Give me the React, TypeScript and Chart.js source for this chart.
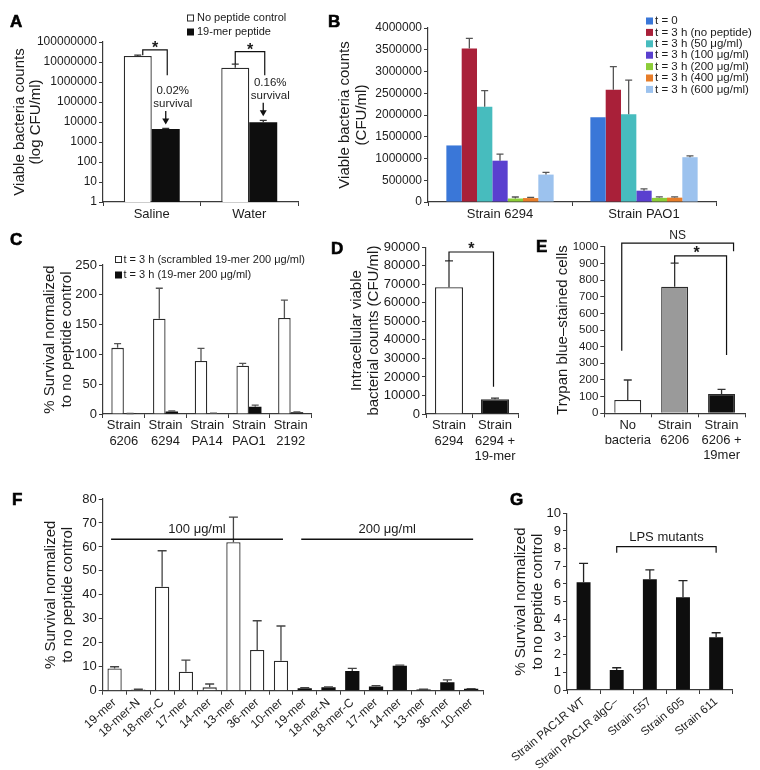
import React, { useEffect, useRef } from 'react';
import { Chart, registerables } from 'chart.js';

Chart.register(...registerables);

const FONT = '"Liberation Sans", Arial, Helvetica, sans-serif';
Chart.defaults.font.family = FONT;

const INK = '#1b1b1b';
const AXIS = '#3a3a3a';
const WHITE = '#ffffff';
const BLACK = '#0e0e0e';
const EDGE = '#2b2b2b';
const GRAY = '#9a9a9a';

// ---------------- Panel A ----------------
const A_categories = ['Saline', 'Water'];
const A_series = ['No peptide control', '19-mer peptide'];
const A_noPeptide = [2.0e7, 5.2e6];
const A_noPeptideErr = [2.0e6, 2.7e6];
const A_peptide = [4500, 9700];
const A_peptideErr = [300, 2400];
const A_ticks = [1, 10, 100, 1000, 10000, 100000, 1000000, 10000000, 100000000];
const A_survival = ['0.02%', '0.16%'];

// ---------------- Panel B ----------------
const B_categories = ['Strain 6294', 'Strain PAO1'];
const B_series = [
  't = 0',
  't = 3 h (no peptide)',
  't = 3 h (50 μg/ml)',
  't = 3 h (100 μg/ml)',
  't = 3 h (200 μg/ml)',
  't = 3 h (400 μg/ml)',
  't = 3 h (600 μg/ml)',
];
const B_t0 = [1300000, 1950000];
const B_noPeptide = [3530000, 2580000];
const B_50 = [2190000, 2020000];
const B_100 = [950000, 260000];
const B_200 = [80000, 95000];
const B_400 = [90000, 100000];
const B_600 = [630000, 1030000];
const B_t0Err = [0, 0];
const B_noPeptideErr = [230000, 530000];
const B_50Err = [370000, 780000];
const B_100Err = [150000, 40000];
const B_200Err = [35000, 25000];
const B_400Err = [15000, 20000];
const B_600Err = [50000, 30000];
const B_colors = ['#3a77d8', '#a92039', '#47bcbe', '#5a40cf', '#8ccd38', '#e77d29', '#9cc2ee'];

// ---------------- Panel C ----------------
const C_categories = [
  ['Strain', '6206'],
  ['Strain', '6294'],
  ['Strain', 'PA14'],
  ['Strain', 'PAO1'],
  ['Strain', '2192'],
];
const C_series = ['t = 3 h (scrambled 19-mer 200 μg/ml)', 't = 3 h (19-mer 200 μg/ml)'];
const C_scrambled = [111, 160, 89, 81, 161];
const C_scrambledErr = [7, 51, 21, 4, 30];
const C_peptide = [0.5, 4, 1, 12.3, 3];
const C_peptideErr = [0.3, 1, 0.3, 2.7, 0.6];

// ---------------- Panel D ----------------
const D_categories = [['Strain', '6294'], ['Strain', '6294 +', '19-mer']];
const D_values = [68400, 7900];
const D_err = [14200, 700];

// ---------------- Panel E ----------------
const E_categories = [['No', 'bacteria'], ['Strain', '6206'], ['Strain', '6206 +', '19mer']];
const E_values = [80, 760, 116];
const E_err = [120, 142, 28];

// ---------------- Panel F ----------------
const F_categories = [
  '19-mer', '18-mer-N', '18-mer-C', '17-mer', '14-mer', '13-mer', '36-mer', '10-mer',
  '19-mer', '18-mer-N', '18-mer-C', '17-mer', '14-mer', '13-mer', '36-mer', '10-mer',
];
const F_dose100 = [9.3, 0.5, 43.4, 7.9, 1.4, 62, 17, 12.5, null, null, null, null, null, null, null, null];
const F_dose100Err = [0.7, 0.1, 15, 4.9, 1.4, 10.4, 12.2, 14.5, null, null, null, null, null, null, null, null];
const F_dose200 = [null, null, null, null, null, null, null, null, 1.0, 1.4, 8.2, 1.8, 10.4, 0.5, 3.5, 0.8];
const F_dose200Err = [null, null, null, null, null, null, null, null, 0.3, 0.2, 1.1, 0.3, 0.3, 0.1, 1.0, 0.1];
const F_groups = ['100 μg/ml', '200 μg/ml'];

// ---------------- Panel G ----------------
const G_categories = ['Strain PAC1R WT', 'Strain PAC1R algC–', 'Strain 557', 'Strain 605', 'Strain 611'];
const G_values = [6.1, 1.13, 6.27, 5.25, 2.98];
const G_err = [1.07, 0.13, 0.53, 0.94, 0.26];

// ---------------- helpers ----------------
const errorBarPlugin = {
  id: 'errorBars',
  afterDatasetsDraw(chart: any) {
    const ctx = chart.ctx;
    const y = chart.scales.y;
    chart.data.datasets.forEach((ds: any, di: number) => {
      if (!ds.errors) return;
      const meta = chart.getDatasetMeta(di);
      meta.data.forEach((bar: any, i: number) => {
        const v = ds.data[i];
        const e = ds.errors[i];
        if (v == null || e == null || e <= 0) return;
        const top = y.getPixelForValue(v + e);
        ctx.save();
        ctx.strokeStyle = ds.errorColor || '#333';
        ctx.lineWidth = 1.3;
        ctx.beginPath();
        ctx.moveTo(bar.x, bar.y);
        ctx.lineTo(bar.x, top);
        const w = ds.capWidth ?? 8;
        ctx.moveTo(bar.x - w / 2, top);
        ctx.lineTo(bar.x + w / 2, top);
        ctx.stroke();
        ctx.restore();
      });
    });
  },
};

function txt(ctx: any, s: string, x: number, y: number, size: number, align = 'center', bold = false) {
  ctx.save();
  ctx.fillStyle = INK;
  ctx.font = `${bold ? 'bold ' : ''}${size}px ${FONT}`;
  ctx.textAlign = align;
  ctx.textBaseline = 'middle';
  ctx.fillText(s, x, y);
  ctx.restore();
}

function path(ctx: any, pts: number[][], w = 1.2) {
  ctx.save();
  ctx.strokeStyle = '#111';
  ctx.lineWidth = w;
  ctx.beginPath();
  pts.forEach((p, i) => (i ? ctx.lineTo(p[0], p[1]) : ctx.moveTo(p[0], p[1])));
  ctx.stroke();
  ctx.restore();
}

function star(ctx: any, x: number, y: number) {
  txt(ctx, '*', x, y + 3.5, 16, 'center', true);
}

function arrowDown(ctx: any, x: number, y0: number, y1: number) {
  ctx.save();
  ctx.strokeStyle = '#111';
  ctx.fillStyle = '#111';
  ctx.lineWidth = 1.3;
  ctx.beginPath();
  ctx.moveTo(x, y0);
  ctx.lineTo(x, y1 - 4);
  ctx.stroke();
  ctx.beginPath();
  ctx.moveTo(x - 3.5, y1 - 6);
  ctx.lineTo(x + 3.5, y1 - 6);
  ctx.lineTo(x, y1);
  ctx.closePath();
  ctx.fill();
  ctx.restore();
}

function legend(ctx: any, chart: any, x: number, y0: number, dy: number, box: number, gap: number, size: number) {
  chart.data.datasets.forEach((ds: any, i: number) => {
    const y = y0 + i * dy;
    ctx.save();
    ctx.fillStyle = ds.backgroundColor;
    ctx.fillRect(x, y - box / 2, box, box);
    if (ds.borderWidth) {
      ctx.strokeStyle = EDGE;
      ctx.lineWidth = 1;
      ctx.strokeRect(x + 0.5, y - box / 2 + 0.5, box - 1, box - 1);
    }
    ctx.restore();
    txt(ctx, ds.label, x + box + gap, y, size, 'left');
  });
}

function yScale(s: any) {
  const sc: any = {
    type: s.type ?? 'linear',
    min: s.min,
    max: s.max,
    afterFit: (a: any) => {
      a.width = s.width;
    },
    ticks: {
      stepSize: s.step,
      autoSkip: false,
      font: { size: s.font },
      color: INK,
      padding: 2,
      callback: (v: any) => String(v),
    },
    grid: { drawOnChartArea: false, drawTicks: true, tickLength: 4, color: AXIS, lineWidth: 1 },
    border: { display: true, color: AXIS, width: 1.2 },
    title: {
      display: true,
      text: s.title,
      color: INK,
      font: { size: 15, lineHeight: 1.1 },
      padding: { top: s.titlePad, bottom: 0 },
    },
  };
  if (s.ticksList) {
    sc.afterBuildTicks = (a: any) => {
      a.ticks = s.ticksList.map((v: number) => ({ value: v }));
    };
  }
  return sc;
}

function xScale(s: any) {
  return {
    type: 'category',
    afterFit: (a: any) => {
      a.height = s.height;
    },
    ticks: {
      autoSkip: false,
      maxRotation: s.rot ?? 0,
      minRotation: s.rot ?? 0,
      font: { size: s.font, lineHeight: 1.18 },
      color: INK,
      padding: s.pad ?? 1,
    },
    grid: { offset: true, drawOnChartArea: false, drawTicks: true, tickLength: 4, color: AXIS, lineWidth: 1 },
    border: { display: true, color: AXIS, width: 1.2 },
  };
}

function makeConfig(labels: any[], datasets: any[], x: any, y: any, padTop: number, padRight: number, annotate: (c: any) => void) {
  return {
    type: 'bar',
    data: { labels, datasets },
    options: {
      responsive: false,
      maintainAspectRatio: false,
      animation: false,
      devicePixelRatio: 1,
      events: [],
      layout: { padding: { top: padTop, right: padRight, left: 0, bottom: 0 } },
      plugins: { legend: { display: false }, tooltip: { enabled: false } },
      scales: { x, y },
    },
    plugins: [errorBarPlugin, { id: 'annot', afterDraw: (c: any) => annotate(c) }],
  } as any;
}

// ---------------- panel configs ----------------
function buildA() {
  const bw = { categoryPercentage: 0.574, barPercentage: 1 };
  const datasets = [
    { label: A_series[0], data: A_noPeptide, errors: A_noPeptideErr, backgroundColor: WHITE, borderColor: EDGE, borderWidth: 1.3, capWidth: 7, ...bw },
    { label: A_series[1], data: A_peptide, errors: A_peptideErr, backgroundColor: BLACK, borderWidth: 0, capWidth: 7, ...bw },
  ];
  const annotate = (chart: any) => {
    const ctx = chart.ctx;
    const y = chart.scales.y;
    const w = chart.getDatasetMeta(0).data;
    const b = chart.getDatasetMeta(1).data;
    const level = [4e7, 3.3e7];
    const shift = [5, 0];
    A_categories.forEach((_, i) => {
      const lx = w[i].x + shift[i];
      const rx = b[i].x + 1.5;
      const ly = y.getPixelForValue(level[i]);
      path(ctx, [
        [lx, y.getPixelForValue(A_noPeptide[i] + A_noPeptideErr[i])],
        [lx, ly],
        [rx, ly],
        [rx, y.getPixelForValue(2.2e6)],
      ]);
      star(ctx, (lx + rx) / 2, ly - 5);
      const tip = y.getPixelForValue(A_peptide[i] + A_peptideErr[i]) - 4;
      arrowDown(ctx, b[i].x, tip - 13.5, tip);
      txt(ctx, 'survival', b[i].x + 7, tip - 21, 11.5);
      txt(ctx, A_survival[i], b[i].x + 7, tip - 34, 11.5);
    });
    legend(ctx, chart, 187, 18, 14, 7, 3, 11);
  };
  return makeConfig(
    A_categories,
    datasets,
    xScale({ height: 28, font: 13 }),
    yScale({ type: 'logarithmic', min: 1, max: 1e8, ticksList: A_ticks, width: 103, font: 12, title: ['Viable bacteria counts', '(log CFU/ml)'], titlePad: 11.5 }),
    42,
    2,
    annotate,
  );
}

function buildB() {
  const vals = [B_t0, B_noPeptide, B_50, B_100, B_200, B_400, B_600];
  const errs = [B_t0Err, B_noPeptideErr, B_50Err, B_100Err, B_200Err, B_400Err, B_600Err];
  const datasets = B_series.map((label, i) => ({
    label,
    data: vals[i],
    errors: errs[i],
    backgroundColor: B_colors[i],
    borderWidth: 0,
    errorColor: '#555',
    capWidth: 7,
    categoryPercentage: 0.745,
    barPercentage: 1,
  }));
  const annotate = (chart: any) => {
    legend(chart.ctx, chart, 326, 21, 11.4, 7, 2, 11.5);
  };
  return makeConfig(
    B_categories,
    datasets,
    xScale({ height: 28, font: 13 }),
    yScale({ min: 0, max: 4000000, step: 500000, width: 108, font: 12, title: ['Viable bacteria counts', '(CFU/ml)'], titlePad: 16.75 }),
    28,
    44,
    annotate,
  );
}

function buildC() {
  const bw = { categoryPercentage: 0.6, barPercentage: 1 };
  const datasets = [
    { label: C_series[0], data: C_scrambled, errors: C_scrambledErr, backgroundColor: WHITE, borderColor: EDGE, borderWidth: 1.3, errorColor: '#555', capWidth: 7, ...bw },
    { label: C_series[1], data: C_peptide, errors: C_peptideErr, backgroundColor: BLACK, borderWidth: 0, errorColor: '#555', capWidth: 7, ...bw },
  ];
  const annotate = (chart: any) => {
    legend(chart.ctx, chart, 115, 27.5, 15.5, 7, 1.5, 11);
  };
  return makeConfig(
    C_categories,
    datasets,
    xScale({ height: 48, font: 13, pad: 0 }),
    yScale({ min: 0, max: 250, step: 50, width: 103, font: 13, title: ['% Survival normalized', 'to no peptide control'], titlePad: 41.75 }),
    33,
    8.5,
    annotate,
  );
}

function buildD() {
  const datasets = [
    { label: 'D', data: D_values, errors: D_err, backgroundColor: [WHITE, BLACK], borderColor: EDGE, borderWidth: 1.3, capWidth: 8, categoryPercentage: 0.61, barPercentage: 1 },
  ];
  const annotate = (chart: any) => {
    const ctx = chart.ctx;
    const x = chart.scales.x;
    const y = chart.scales.y;
    const c0 = x.getPixelForValue(0);
    const c1 = x.getPixelForValue(1) - 1.5;
    const ly = y.getPixelForValue(87400);
    path(ctx, [
      [c0, y.getPixelForValue(D_values[0] + D_err[0])],
      [c0, ly],
      [c1, ly],
      [c1, y.getPixelForValue(14700)],
    ]);
    star(ctx, (c0 + c1) / 2, ly - 6);
  };
  return makeConfig(
    D_categories,
    datasets,
    xScale({ height: 58, font: 13, pad: 0 }),
    yScale({ min: 0, max: 90000, step: 10000, width: 106, font: 13, title: ['Intracellular viable', 'bacterial counts (CFU/ml)'], titlePad: 28.75 }),
    15.2,
    7,
    annotate,
  );
}

function buildE() {
  const datasets = [
    { label: 'E', data: E_values, errors: E_err, backgroundColor: [WHITE, GRAY, BLACK], borderColor: EDGE, borderWidth: 1.3, capWidth: 8, categoryPercentage: 0.575, barPercentage: 1 },
  ];
  const annotate = (chart: any) => {
    const ctx = chart.ctx;
    const x = chart.scales.x;
    const y = chart.scales.y;
    const c = (i: number) => x.getPixelForValue(i);
    const nl = c(0) - 6;
    const nr = c(2) + 12;
    const ny = y.getPixelForValue(1022);
    path(ctx, [
      [nl, y.getPixelForValue(375)],
      [nl, ny],
      [nr, ny],
      [nr, y.getPixelForValue(972)],
    ]);
    txt(ctx, 'NS', (nl + nr) / 2, ny - 7, 12);
    const sl = c(1);
    const sr = c(2) + 5;
    const sy = y.getPixelForValue(945);
    path(ctx, [
      [sl, y.getPixelForValue(E_values[1] + E_err[1])],
      [sl, sy],
      [sr, sy],
      [sr, y.getPixelForValue(350)],
    ]);
    star(ctx, (sl + sr) / 2 - 4, sy - 6);
  };
  return makeConfig(
    E_categories,
    datasets,
    xScale({ height: 58.7, font: 13, pad: 0 }),
    yScale({ min: 0, max: 1000, step: 100, width: 79.3, font: 11.5, title: 'Trypan blue–stained cells', titlePad: 29.75 }),
    21.7,
    15,
    annotate,
  );
}

function buildF() {
  const bw = { categoryPercentage: 0.6, barPercentage: 1, grouped: false };
  const datasets = [
    { label: F_groups[0], data: F_dose100, errors: F_dose100Err, backgroundColor: WHITE, borderColor: EDGE, borderWidth: 1.3, errorColor: '#444', capWidth: 9, ...bw },
    { label: F_groups[1], data: F_dose200, errors: F_dose200Err, backgroundColor: BLACK, borderWidth: 0, errorColor: '#444', capWidth: 9, ...bw },
  ];
  const annotate = (chart: any) => {
    const ctx = chart.ctx;
    const x = chart.scales.x;
    const y = chart.scales.y;
    const c = (i: number) => x.getPixelForValue(i);
    const ly = y.getPixelForValue(63.2);
    const ty = y.getPixelForValue(67.4);
    [[0, 7], [8, 15]].forEach(([a, b], g) => {
      const l = c(a) - 3.5;
      const r = c(b) + 2;
      path(ctx, [[l, ly], [r, ly]], 1.3);
      txt(ctx, F_groups[g], (l + r) / 2, ty, 13);
    });
  };
  return makeConfig(
    F_categories,
    datasets,
    xScale({ height: 79.3, font: 12, rot: 42, pad: 1 }),
    yScale({ min: 0, max: 80, step: 10, width: 102.7, font: 13, title: ['% Survival normalized', 'to no peptide control'], titlePad: 42.75 }),
    21,
    7,
    annotate,
  );
}

function buildG() {
  const datasets = [
    { label: 'G', data: G_values, errors: G_err, backgroundColor: BLACK, borderWidth: 0, errorColor: '#222', capWidth: 9, categoryPercentage: 0.42, barPercentage: 1 },
  ];
  const annotate = (chart: any) => {
    const ctx = chart.ctx;
    const x = chart.scales.x;
    const y = chart.scales.y;
    const l = x.getPixelForValue(1);
    const r = x.getPixelForValue(4);
    const ly = y.getPixelForValue(8.11);
    const ty = y.getPixelForValue(7.77);
    path(ctx, [[l, ty], [l, ly], [r, ly], [r, ty]], 1.2);
    txt(ctx, 'LPS mutants', (l + r) / 2, y.getPixelForValue(8.66), 13);
  };
  return makeConfig(
    G_categories,
    datasets,
    xScale({ height: 80, font: 11.5, rot: 40, pad: 1 }),
    yScale({ min: 0, max: 10, step: 1, width: 77, font: 13, title: ['% Survival normalized', 'to no peptide control'], titlePad: 22.75 }),
    35.3,
    27.3,
    annotate,
  );
}

function ChartPanel({ left, top, width, height, build }: { left: number; top: number; width: number; height: number; build: () => any }) {
  const ref = useRef<HTMLCanvasElement>(null);
  useEffect(() => {
    const chart = new Chart(ref.current as HTMLCanvasElement, build());
    return () => chart.destroy();
  }, []);
  return (
    <canvas
      ref={ref}
      width={width}
      height={height}
      style={{ position: 'absolute', left, top, width, height }}
    />
  );
}

function Letter({ ch, left, top }: { ch: string; left: number; top: number }) {
  return (
    <div
      style={{
        position: 'absolute',
        left,
        top: top - 2.2,
        fontFamily: FONT,
        fontWeight: 900,
        fontSize: 17,
        lineHeight: '17px',
        color: '#000',
        WebkitTextStroke: '0.6px #000',
      }}
    >
      {ch}
    </div>
  );
}

export default function App() {
  return (
    <div style={{ position: 'absolute', left: 0, top: 0, width: 760, height: 770, background: '#fff', overflow: 'hidden' }}>
      <ChartPanel left={0} top={0} width={300} height={230} build={buildA} />
      <ChartPanel left={320} top={0} width={440} height={230} build={buildB} />
      <ChartPanel left={0} top={232} width={320} height={230} build={buildC} />
      <ChartPanel left={320} top={232} width={205} height={240} build={buildD} />
      <ChartPanel left={525} top={225} width={235} height={247} build={buildE} />
      <ChartPanel left={0} top={478} width={490} height={292} build={buildF} />
      <ChartPanel left={490} top={478} width={270} height={292} build={buildG} />
      <Letter ch="A" left={10} top={15} />
      <Letter ch="B" left={328} top={15} />
      <Letter ch="C" left={10} top={233} />
      <Letter ch="D" left={331} top={242} />
      <Letter ch="E" left={536} top={240} />
      <Letter ch="F" left={12} top={493} />
      <Letter ch="G" left={510} top={493} />
    </div>
  );
}
